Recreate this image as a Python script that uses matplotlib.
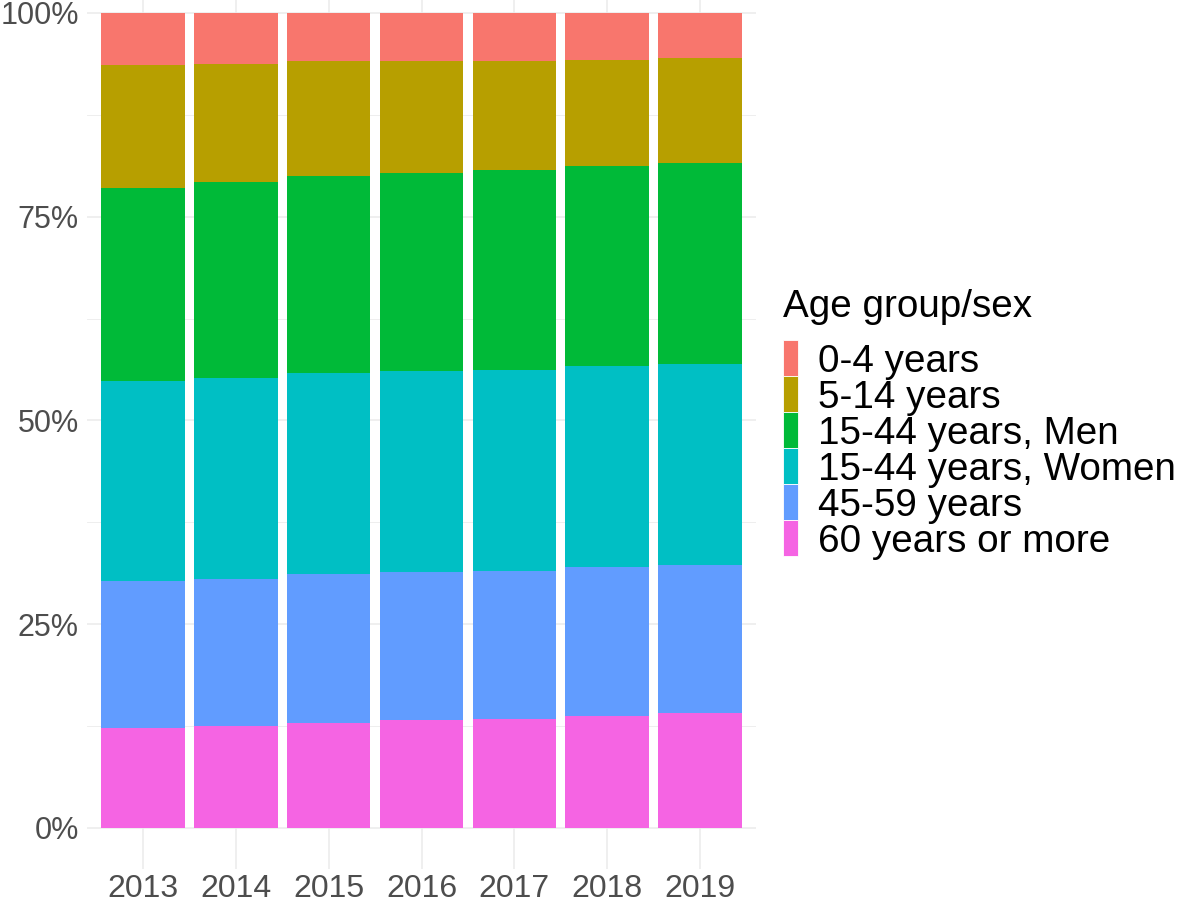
import matplotlib
matplotlib.use("Agg")
import matplotlib.pyplot as plt
import numpy as np
from matplotlib.patches import Rectangle
from matplotlib.ticker import FixedLocator, PercentFormatter

plt.rcParams["font.family"] = ["Liberation Sans", "DejaVu Sans"]

years = ["2013", "2014", "2015", "2016", "2017", "2018", "2019"]
# shares in %, legend order (top of stack first)
groups = ["0-4 years", "5-14 years", "15-44 years, Men", "15-44 years, Women",
          "45-59 years", "60 years or more"]
age_0_4 = [6.4, 6.3, 5.9, 5.9, 5.9, 5.8, 5.5]
age_5_14 = [15.1, 14.4, 14.1, 13.7, 13.4, 13.0, 12.9]
men_15_44 = [23.7, 24.1, 24.2, 24.3, 24.5, 24.5, 24.7]
women_15_44 = [24.5, 24.7, 24.6, 24.7, 24.7, 24.7, 24.6]
age_45_59 = [18.0, 18.0, 18.3, 18.2, 18.1, 18.3, 18.2]
age_60_plus = [12.3, 12.5, 12.9, 13.2, 13.4, 13.7, 14.1]
colors = ["#F8766D", "#B79F00", "#00BA38", "#00BFC4", "#619CFF", "#F564E3"]

series = [age_0_4, age_5_14, men_15_44, women_15_44, age_45_59, age_60_plus]

W, H = 1179, 902
fig = plt.figure(figsize=(W / 100, H / 100), dpi=100)
ax = fig.add_axes([87.3 / W, 1 - 868.7 / H, (755.7 - 87.3) / W, 896.5 / H])

x = np.arange(len(years))
data = np.array(series, dtype=float)
data = data / data.sum(axis=0)  # position = "fill"
bottom = np.zeros(len(years))
for i in range(len(groups) - 1, -1, -1):
    ax.bar(x, data[i], 0.9, bottom=bottom, color=colors[i], zorder=2)
    bottom += data[i]

ax.set_xlim(-0.6, len(years) - 0.4)
ax.set_ylim(-0.05, 1.05)
ax.set_xticks(x)
ax.set_xticklabels(years)
ax.yaxis.set_major_locator(FixedLocator([0, 0.25, 0.5, 0.75, 1.0]))
ax.yaxis.set_minor_locator(FixedLocator([0.125, 0.375, 0.625, 0.875]))
ax.yaxis.set_major_formatter(PercentFormatter(1.0, decimals=0))
ax.tick_params(axis="both", which="both", length=0, labelsize=23, labelcolor="#4D4D4D")
ax.tick_params(axis="x", pad=3.5)
ax.tick_params(axis="y", pad=6, labelsize=22)
ax.grid(True, which="major", color="#EBEBEB", lw=1.1, zorder=0)
ax.grid(True, which="minor", axis="y", color="#EBEBEB", lw=0.6, zorder=0)
for s in ax.spines.values():
    s.set_visible(False)

# legend, drawn in figure pixels like ggplot's guide
fig.text(782.7 / W, 1 - 317 / H, "Age group/sex", fontsize=27.8, va="baseline", ha="left")
key_top, key_h = 339.5, 36.0
for k, (g, c) in enumerate(zip(groups, colors)):
    y0 = key_top + key_h * (k + 1)
    fig.add_artist(Rectangle((782.7 / W, 1 - y0 / H), 15.3 / W, key_h / H,
                             transform=fig.transFigure, facecolor=c, edgecolor="white", lw=0.6))
    fig.text(818 / W, 1 - (key_top + 32.5 + key_h * k) / H, g, fontsize=27.8, va="baseline", ha="left")

fig.savefig("out.png", dpi=100)
